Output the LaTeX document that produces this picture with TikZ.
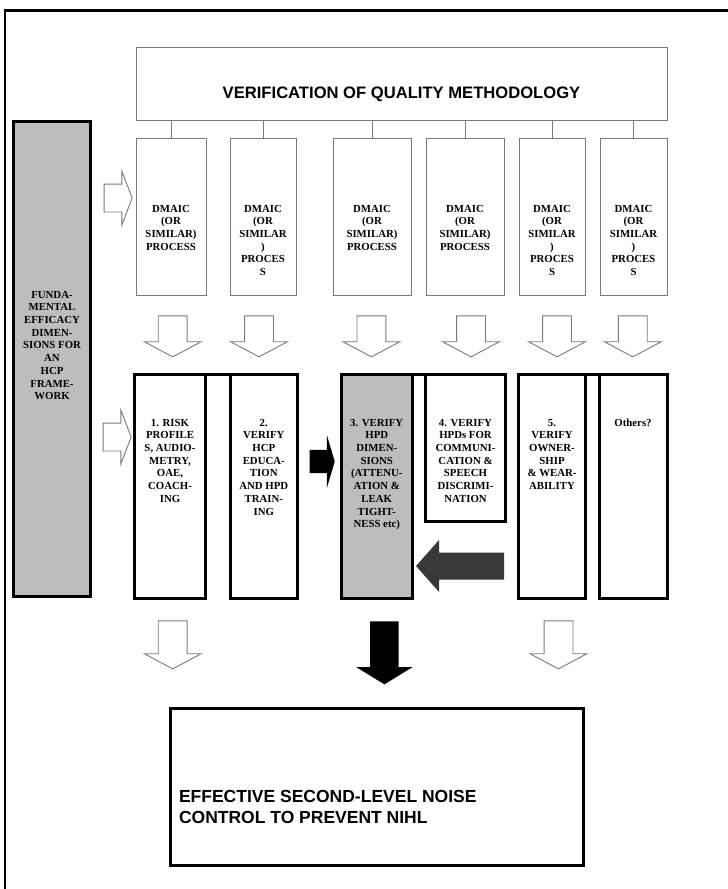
\documentclass[tikz,border=0pt]{standalone}
\usepackage{fontspec}
\setmainfont{Liberation Serif}
\newfontfamily\arialfont{Liberation Sans}
\usetikzlibrary{shapes.arrows}

\definecolor{boxgray}{HTML}{BDBDBD}
\definecolor{linegray}{HTML}{7A7A7A}
\definecolor{darkarrow}{HTML}{383838}

\begin{document}
\begin{tikzpicture}[x=1pt, y=-1pt]
	\tikzstyle{every node}=[inner sep=0pt, outer sep=0pt]
	\tikzstyle{thin box}=[rectangle, draw=linegray, line width=1pt]
	\tikzstyle{thick box}=[rectangle, draw=black, line width=3pt]
	\tikzstyle{box text}=[align=center, anchor=north, font=\fontsize{10.8}{12.7}\selectfont\bfseries]
	\tikzstyle{open arrow}=[single arrow, draw=linegray, fill=white, line width=0.9pt, shape border rotate=270, inner xsep=14pt, inner ysep=0pt, minimum width=56pt, single arrow head extend=14pt, single arrow tip angle=124]
	\tikzstyle{side arrow}=[single arrow, draw=linegray, fill=white, line width=0.9pt, inner xsep=0pt, inner ysep=13.5pt, minimum width=53pt, single arrow head extend=13pt, single arrow tip angle=138, minimum height=28pt]
	\useasboundingbox (0,0) rectangle (728,889);

	% frame
	\draw[line width=2.5pt] (5,889) -- (5,10.5) -- (728,10.5);

	% methodology
	\node[thin box, minimum width=531pt, minimum height=73pt, text height=29pt, text depth=0pt, font=\arialfont\fontsize{16.6}{20}\selectfont\bfseries] (Q) at (401.5,83.5) {VERIFICATION OF QUALITY METHODOLOGY};

	\node[thin box, minimum width=70pt, minimum height=157pt] (D1) at (171,216.5) {};
	\node[thin box, minimum width=66pt, minimum height=157pt] (D2) at (263,216.5) {};
	\node[thin box, minimum width=78pt, minimum height=157pt] (D3) at (372,216.5) {};
	\node[thin box, minimum width=78pt, minimum height=157pt] (D4) at (465,216.5) {};
	\node[thin box, minimum width=66pt, minimum height=157pt] (D5) at (552,216.5) {};
	\node[thin box, minimum width=67pt, minimum height=157pt] (D6) at (633.5,216.5) {};

	\node[box text] (TD1) at (171,205) {DMAIC\\(OR\\SIMILAR)\\PROCESS};
	\node[box text] (TD2) at (263,205) {DMAIC\\(OR\\SIMILAR\\)\\PROCES\\S};
	\node[box text] (TD3) at (372,205) {DMAIC\\(OR\\SIMILAR)\\PROCESS};
	\node[box text] (TD4) at (465,205) {DMAIC\\(OR\\SIMILAR)\\PROCESS};
	\node[box text] (TD5) at (552,205) {DMAIC\\(OR\\SIMILAR\\)\\PROCES\\S};
	\node[box text] (TD6) at (633.5,205) {DMAIC\\(OR\\SIMILAR\\)\\PROCES\\S};

	\draw[linegray, line width=1pt] (Q.south -| D1.north) -- (D1.north);
	\draw[linegray, line width=1pt] (Q.south -| D2.north) -- (D2.north);
	\draw[linegray, line width=1pt] (Q.south -| D3.north) -- (D3.north);
	\draw[linegray, line width=1pt] (Q.south -| D4.north) -- (D4.north);
	\draw[linegray, line width=1pt] (Q.south -| D5.north) -- (D5.north);
	\draw[linegray, line width=1pt] (Q.south -| D6.north) -- (D6.north);

	\node[open arrow, minimum height=41pt] (A1) at (172.7,332.5) {};
	\node[open arrow, minimum height=41pt] (A2) at (259,332.5) {};
	\node[open arrow, minimum height=41pt] (A3) at (371.4,332.5) {};
	\node[open arrow, minimum height=41pt] (A4) at (471,332.5) {};
	\node[open arrow, minimum height=41pt] (A5) at (557,332.5) {};
	\node[open arrow, minimum height=41pt] (A6) at (632.8,332.5) {};

	% fundamental dimensions
	\node[thick box, fill=boxgray, minimum width=77.6pt, minimum height=475pt] (F) at (52,359) {};
	\node[box text] (TF) at (52,291) {FUNDA-\\MENTAL\\EFFICACY\\DIMEN-\\SIONS FOR\\AN\\HCP\\FRAME-\\WORK};
	\node[side arrow] (L1) at (115.5,198) {};
	\node[side arrow] (L2) at (114.5,437) {};

	\node[thick box, minimum width=71pt, minimum height=224pt] (B1) at (170,486.5) {};
	\node[thick box, minimum width=66.5pt, minimum height=224pt] (B2) at (263.75,486.5) {};
	\node[thick box, fill=boxgray, minimum width=70.5pt, minimum height=224pt] (B3) at (376.75,486.5) {};
	\node[thick box, minimum width=80pt, minimum height=147pt] (B4) at (465.5,448) {};
	\node[thick box, minimum width=67pt, minimum height=224pt] (B5) at (552,486.5) {};
	\node[thick box, minimum width=68pt, minimum height=224pt] (B6) at (633,486.5) {};
	\draw[line width=3pt] (B1.north west) -- (B2.north east);
	\draw[line width=3pt] (B3.north west) -- (B4.north east);
	\draw[line width=3pt] (B5.north west) -- (B6.north east);

	\node[box text] (TB1) at (170,419) {1. RISK\\PROFILE\\S, AUDIO-\\METRY,\\OAE,\\COACH-\\ING};
	\node[box text] (TB2) at (263.75,419) {2.\\VERIFY\\HCP\\EDUCA-\\TION\\AND HPD\\TRAIN-\\ING};
	\node[box text] (TB3) at (376.75,419) {3. VERIFY\\HPD\\DIMEN-\\SIONS\\(ATTENU-\\ATION \&\\LEAK\\TIGHT-\\NESS etc)};
	\node[box text] (TB4) at (465.5,419) {4. VERIFY\\HPDs FOR\\COMMUNI-\\CATION \&\\SPEECH\\DISCRIMI-\\NATION};
	\node[box text] (TB5) at (552,419) {5.\\VERIFY\\OWNER-\\SHIP\\\& WEAR-\\ABILITY};
	\node[box text] (TB6) at (633,419) {Others?};

	\node[single arrow, fill=black, inner xsep=0pt, inner ysep=11.5pt, minimum width=53pt, single arrow head extend=15pt, single arrow tip angle=147, minimum height=25pt] (K1) at (320.5,461.5) {};
	\node[single arrow, fill=darkarrow, shape border rotate=180, inner xsep=0pt, inner ysep=13.3pt, minimum width=52pt, single arrow head extend=12.7pt, single arrow tip angle=97, minimum height=88pt] (K2) at (466,566) {};

	% outcome
	\node[open arrow, minimum height=48pt] (A7) at (172.7,641) {};
	\node[single arrow, fill=black, shape border rotate=270, inner xsep=14pt, inner ysep=0pt, minimum width=56pt, single arrow head extend=14pt, single arrow tip angle=117, minimum height=63pt] (K3) at (384.4,648.5) {};
	\node[open arrow, minimum height=48pt] (A8) at (558.5,641) {};

	\node[thick box, minimum width=413.5pt, minimum height=157pt] (E) at (376.75,787) {};
	\node[anchor=north west, align=left, font=\arialfont\fontsize{17.5}{21}\selectfont\bfseries] (TE) at (179,790.5) {EFFECTIVE SECOND-LEVEL NOISE\\CONTROL TO PREVENT NIHL};

\end{tikzpicture}
\end{document}
